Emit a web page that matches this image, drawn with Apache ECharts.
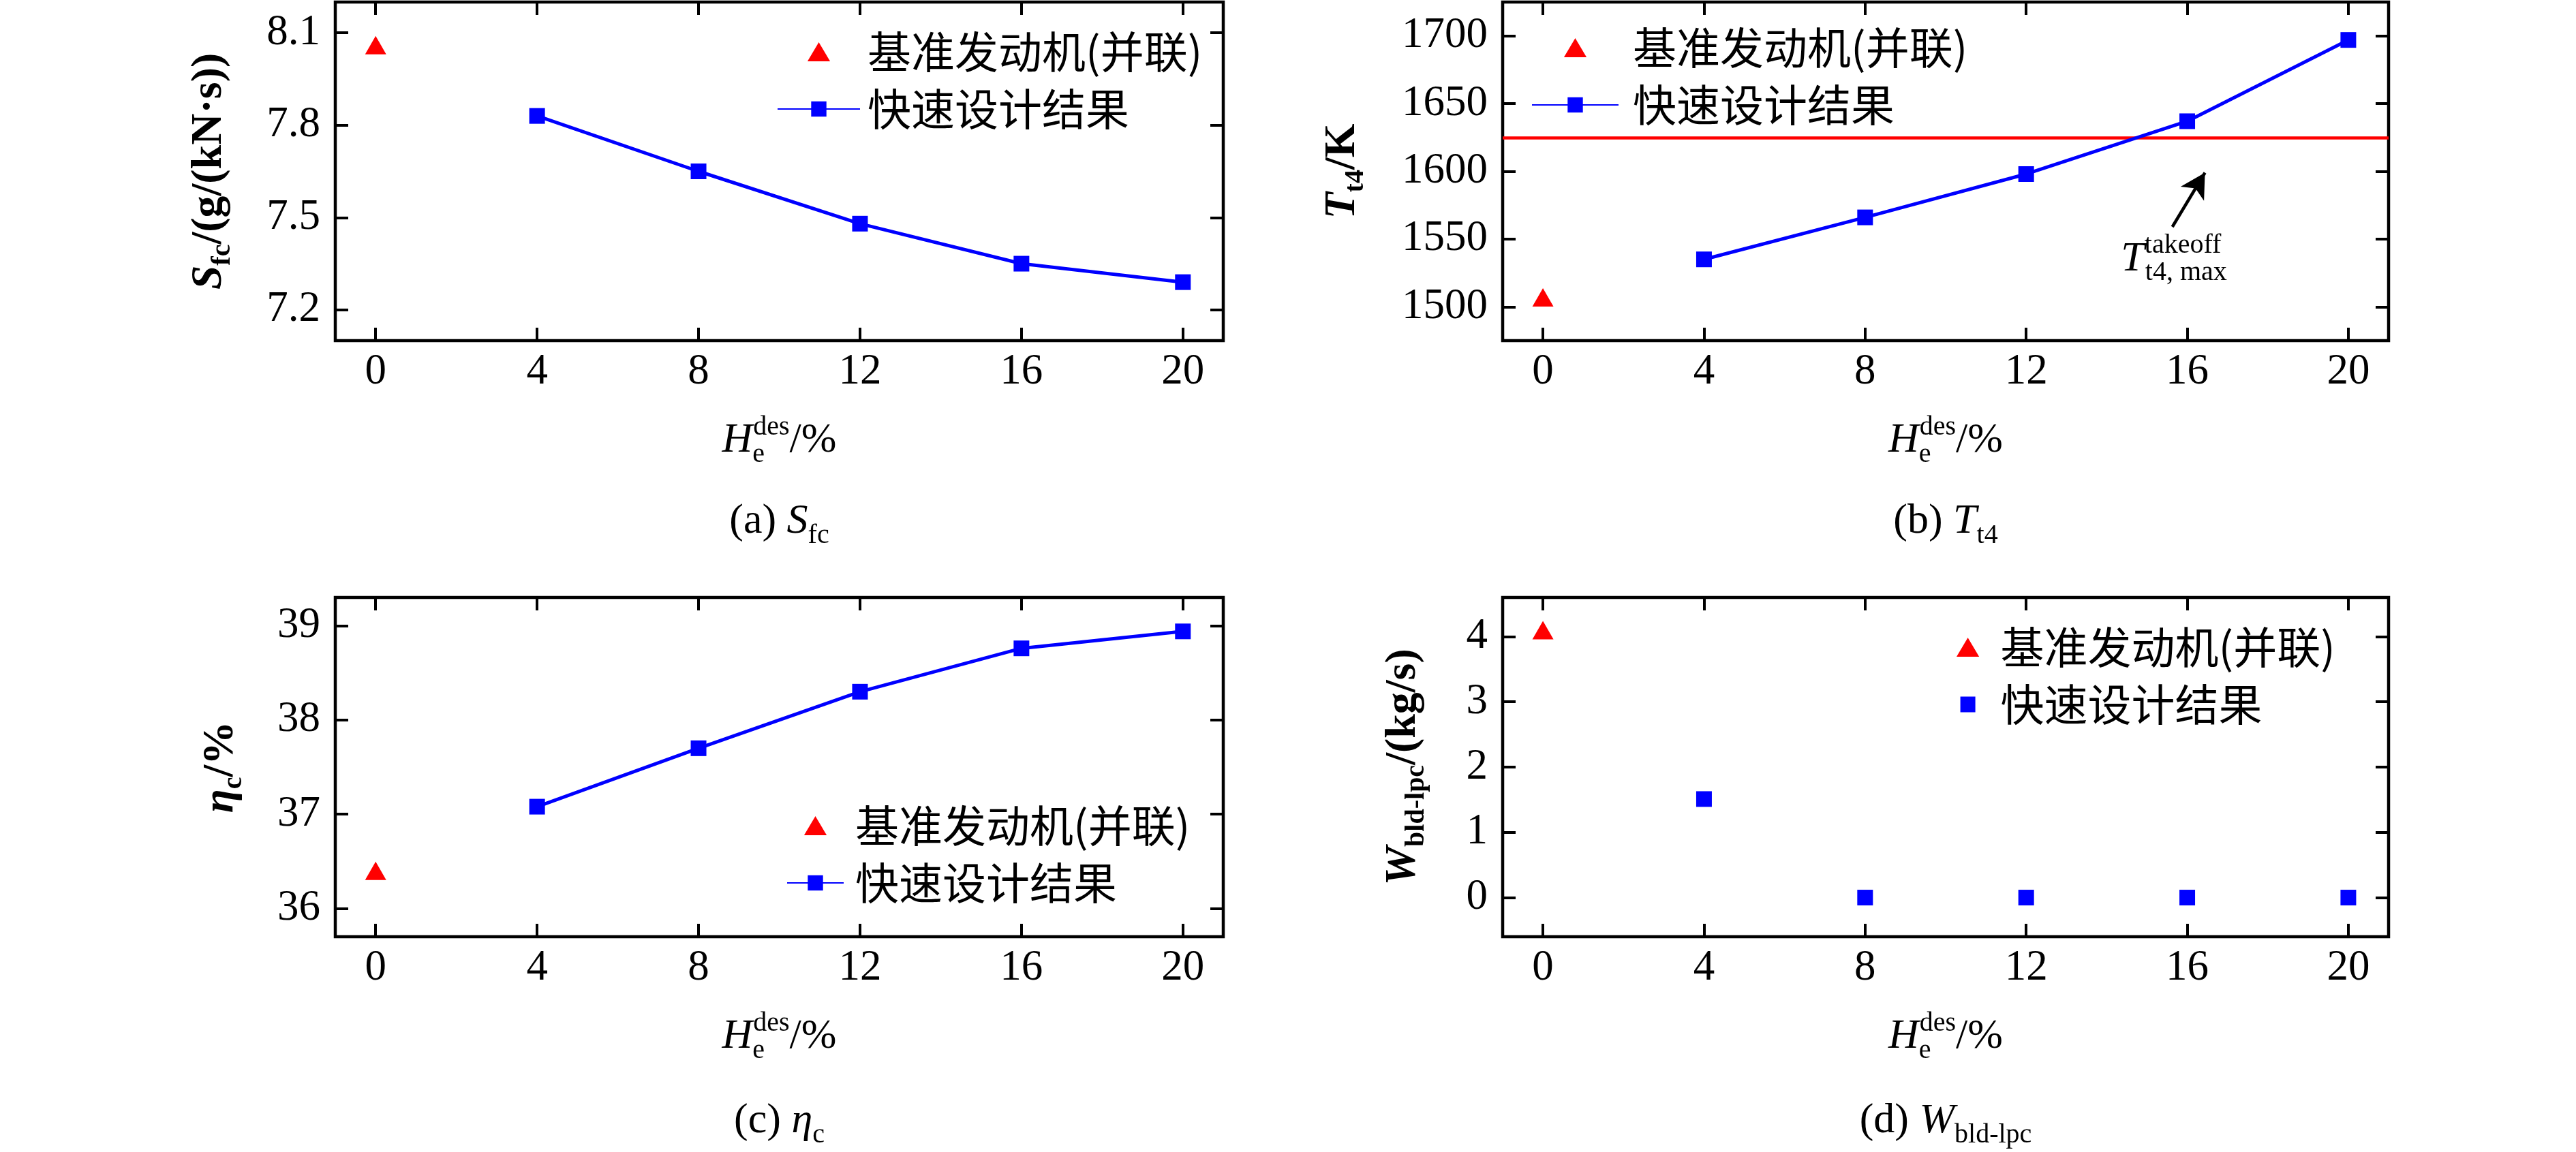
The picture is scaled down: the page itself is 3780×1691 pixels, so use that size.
<!DOCTYPE html>
<html lang="zh">
<head>
<meta charset="UTF-8">
<title>快速设计结果与基准发动机对比</title>
<script src="https://cdn.jsdelivr.net/npm/echarts@6.0.0/dist/echarts.min.js"></script>
<style>
  html, body { margin: 0; padding: 0; background: #fff; }
  #main { width: 3780px; height: 1691px; }
</style>
</head>
<body>
<div id="main"></div>
<script>
// ---- 数据 ----
var baseX = [0];
var fastX = [4, 8, 12, 16, 20];
var xTicks = [0, 4, 8, 12, 16, 20];

// (a) Sfc
var sfcBase = [8.06];
var sfcFast = [7.83, 7.65, 7.48, 7.35, 7.29];
var sfcTicks = [7.2, 7.5, 7.8, 8.1];

// (b) Tt4
var tt4Base = [1507];
var tt4Fast = [1535, 1566, 1598, 1637, 1697];
var tt4Ticks = [1500, 1550, 1600, 1650, 1700];
var tt4TakeoffMax = 1625;
var arrowFrom = [15.63, 1559];
var arrowTo = [16.44, 1599];
var arrowLabelAt = [15.67, 1535];

// (c) eta_c
var etaBase = [36.4];
var etaFast = [37.08, 37.70, 38.30, 38.76, 38.94];
var etaTicks = [36, 37, 38, 39];

// (d) W bld-lpc
var wBase = [4.1];
var wFast = [1.51, 0, 0, 0, 0];
var wTicks = [0, 1, 2, 3, 4];

// ---- 样式 ----
var SERIF = "'Liberation Serif', 'Times New Roman', serif";
var CJK = "'Noto Sans CJK SC', sans-serif";
var BLUE = '#0000ff', RED = '#ff0000';
var BASE = '基准发动机(并联)', FAST = '快速设计结果';
var TRI = 'path://M16,0L32,27L0,27Z';
var SQ = 'path://M0,0M28,28M3,2.5L25,2.5L25,25.5L3,25.5Z';

function pairs(xs, ys) {
    return xs.map(function (x, i) { return [x, ys[i]]; });
}

// 斜体主符号 + 上下标 + 单位；所有片段左对齐，依次排开
function titleRich(bold, size) {
    var w = bold ? 'bold' : 'normal';
    return {
        i: { fontFamily: SERIF, fontStyle: 'italic', fontWeight: w, fontSize: size, lineHeight: 80, align: 'left', color: '#000' },
        n: { fontFamily: SERIF, fontWeight: w, fontSize: size, lineHeight: 80, align: 'left', color: '#000' },
        s: { fontFamily: SERIF, fontWeight: w, fontSize: 40, lineHeight: 40, verticalAlign: 'bottom', align: 'left', color: '#000' },
        // 上下标叠放时，前一个压成 1px 宽
        s0: { fontFamily: SERIF, fontSize: 40, lineHeight: 40, verticalAlign: 'bottom', align: 'left', width: 1, color: '#000' },
        u: { fontFamily: SERIF, fontSize: 40, lineHeight: 40, verticalAlign: 'top', align: 'left', color: '#000' },
        u0: { fontFamily: SERIF, fontSize: 40, lineHeight: 40, verticalAlign: 'top', align: 'left', width: 1, color: '#000' }
    };
}

var panels = [
    { left: 492, top: 3, width: 1303, height: 497, yMin: 7.1, yMax: 8.2, yTicks: sfcTicks,
      yName: '{i|S}{s|fc}{n|/(g/(kN·s))}', yGap: 145, cap: '{n|(a) }{i|S}{s|fc}',
      legend: { left: 1140, top: 44, itemWidth: 121, pad: 6, line: true } },
    { left: 2205, top: 3, width: 1300, height: 497, yMin: 1475, yMax: 1725, yTicks: tt4Ticks,
      yName: '{i|T}{s|t4}{n|/K}', yGap: 195, cap: '{n|(b) }{i|T}{s|t4}',
      legend: { left: 2247, top: 38, itemWidth: 127, pad: 16, line: true } },
    { left: 492, top: 877, width: 1303, height: 498, yMin: 35.7, yMax: 39.3, yTicks: etaTicks,
      yName: '{i|η}{s|c}{n|/%}', yGap: 128, cap: '{n|(c) }{i|η}{s|c}',
      legend: { left: 1154, top: 1180, itemWidth: 83, pad: 12, line: true } },
    { left: 2205, top: 877, width: 1300, height: 498, yMin: -0.6, yMax: 4.6, yTicks: wTicks,
      yName: '{i|W}{s|bld-lpc}{n|/(kg/s)}', yGap: 106, cap: '{n|(d) }{i|W}{s|bld-lpc}',
      legend: { left: 2871, top: 918, itemWidth: 86, pad: 0, line: false } }
];

var tickStyle = { color: '#000', width: 4 };
var labelStyle = {
    fontFamily: SERIF, fontSize: 63, color: '#000',
    formatter: function (v) { return String(v); }
};

var grid = [], xAxis = [], yAxis = [], legend = [], graphic = [];

panels.forEach(function (p, gi) {
    grid.push({
        left: p.left, top: p.top, width: p.width, height: p.height,
        show: true, borderColor: '#000', borderWidth: 4.5, backgroundColor: 'transparent',
        containLabel: false, outerBoundsMode: 'none'
    });

    // 下、上两根横轴（上轴只画刻度）
    xAxis.push({
        type: 'value', gridIndex: gi, position: 'bottom', min: -1, max: 21,
        axisLine: { show: false, onZero: false },
        axisTick: { show: true, inside: true, length: 19, customValues: xTicks, lineStyle: tickStyle },
        axisLabel: Object.assign({ customValues: xTicks, margin: 15 }, labelStyle),
        splitLine: { show: false },
        name: '{i|H}{s0|e}{u|des}{n|/%}', nameLocation: 'middle', nameGap: 107, nameMoveOverlap: false,
        nameTextStyle: { rich: titleRich(false, 62) }
    });
    xAxis.push({
        type: 'value', gridIndex: gi, position: 'top', min: -1, max: 21,
        axisLine: { show: false, onZero: false },
        axisTick: { show: true, inside: true, length: 19, customValues: xTicks, lineStyle: tickStyle },
        axisLabel: { show: false },
        splitLine: { show: false }
    });

    // 左、右两根纵轴
    yAxis.push({
        type: 'value', gridIndex: gi, position: 'left', min: p.yMin, max: p.yMax,
        axisLine: { show: false, onZero: false },
        axisTick: { show: true, inside: true, length: 19, customValues: p.yTicks, lineStyle: tickStyle },
        axisLabel: Object.assign({ customValues: p.yTicks, margin: 22 }, labelStyle),
        splitLine: { show: false },
        name: p.yName, nameLocation: 'middle', nameGap: p.yGap, nameMoveOverlap: false,
        nameTextStyle: { rich: titleRich(true, 64) }
    });
    yAxis.push({
        type: 'value', gridIndex: gi, position: 'right', min: p.yMin, max: p.yMax,
        axisLine: { show: false, onZero: false },
        axisTick: { show: true, inside: true, length: 19, customValues: p.yTicks, lineStyle: tickStyle },
        axisLabel: { show: false },
        splitLine: { show: false }
    });

    var lg = p.legend;
    legend.push({
        orient: 'vertical', left: lg.left, top: lg.top, padding: 0, itemGap: 20,
        itemWidth: lg.itemWidth, itemHeight: 28, symbolKeepAspect: true, selectedMode: false,
        itemStyle: { borderWidth: 0 },
        data: [{ name: BASE, icon: TRI }, lg.line ? { name: FAST } : { name: FAST, icon: SQ }],
        textStyle: { fontFamily: CJK, fontSize: 64, color: '#000', padding: [0, 0, 0, lg.pad] }
    });

    graphic.push({
        type: 'text', x: p.left + p.width / 2, y: gi < 2 ? 766 : 1646,
        style: { text: p.cap, rich: titleRich(false, 62), align: 'center', verticalAlign: 'middle', fill: '#000' }
    });
});

function baseSeries(gi, ys) {
    return {
        name: BASE, type: 'scatter', xAxisIndex: gi * 2, yAxisIndex: gi * 2,
        data: pairs(baseX, ys), symbol: 'triangle', symbolSize: [31, 27],
        itemStyle: { color: RED, borderWidth: 0, opacity: 1 }, z: 3
    };
}
function fastLine(gi, ys) {
    return {
        name: FAST, type: 'line', xAxisIndex: gi * 2, yAxisIndex: gi * 2,
        data: pairs(fastX, ys), symbol: 'rect', symbolSize: 23, showAllSymbol: true,
        lineStyle: { color: BLUE, width: 5 }, itemStyle: { color: BLUE, borderWidth: 0 }, z: 3
    };
}

var series = [
    baseSeries(0, sfcBase), fastLine(0, sfcFast),
    baseSeries(1, tt4Base), fastLine(1, tt4Fast),
    baseSeries(2, etaBase), fastLine(2, etaFast),
    baseSeries(3, wBase),
    {
        name: FAST, type: 'scatter', xAxisIndex: 6, yAxisIndex: 6,
        data: pairs(fastX, wFast), symbol: 'rect', symbolSize: 23,
        itemStyle: { color: BLUE, borderWidth: 0, opacity: 1 }, z: 3
    }
];

// (b) 起飞最大 Tt4 限制线、箭头与标注
series[3].markLine = {
    silent: true, symbol: 'none', animation: false, z: 2,
    label: { show: false },
    lineStyle: { color: RED, width: 4.5, type: 'solid' },
    data: [{ yAxis: tt4TakeoffMax }]
};
series[2].markLine = {
    silent: true, symbol: ['none', 'arrow'], symbolSize: [30, 36], animation: false,
    label: { show: false },
    lineStyle: { color: '#000', width: 4.5, type: 'solid' },
    itemStyle: { color: '#000' },
    data: [[{ coord: arrowFrom }, { coord: arrowTo }]]
};
series[2].markPoint = {
    silent: true, animation: false, symbol: 'circle', symbolSize: 0,
    itemStyle: { color: 'transparent' },
    label: {
        show: true, position: 'inside',
        formatter: '{i|T}{u0|takeoff}{s|t4, max}',
        rich: titleRich(false, 62)
    },
    data: [{ coord: arrowLabelAt }]
};

var chart = echarts.init(document.getElementById('main'), null, { renderer: 'canvas' });
chart.setOption({
    animation: false,
    backgroundColor: '#fff',
    grid: grid,
    xAxis: xAxis,
    yAxis: yAxis,
    legend: legend,
    graphic: graphic,
    series: series
});
</script>
</body>
</html>
